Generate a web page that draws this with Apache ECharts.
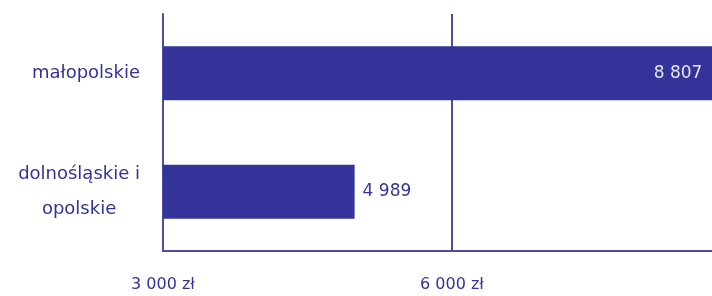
<!DOCTYPE html>
<html>
<head>
<meta charset="utf-8">
<script src="https://cdn.jsdelivr.net/npm/echarts@6/dist/echarts.min.js"></script>
<style>
  html, body { margin: 0; padding: 0; background: #fff; overflow: hidden; }
  /* the original picture is cropped on the right, so the chart runs past the window */
  #chart { width: 780px; height: 296px; }
</style>
</head>
<body>
<div id="chart"></div>
<script>
const categories = ['małopolskie', 'dolnośląskie i\nopolskie']
const values = [8807, 4989]
const tickLabels = { 3000: '3 000 zł', 6000: '6 000 zł' }

const blue = '#333399'
const lineColor = '#4d4da6'

const fmt = v => String(v).replace(/\B(?=(\d{3})+(?!\d))/g, ' ')

const chart = echarts.init(document.getElementById('chart'))

chart.setOption({
  animation: false,
  textStyle: { fontFamily: 'DejaVu Sans' },
  grid: { left: 163, top: 14, bottom: 45, right: 39 },
  xAxis: {
    type: 'value',
    min: 3000,
    max: 9000,
    interval: 3000,
    axisLine: { show: true, lineStyle: { color: lineColor, width: 2 } },
    axisTick: { show: false },
    splitLine: { show: true, lineStyle: { color: lineColor, width: 2 } },
    axisLabel: {
      color: blue,
      fontSize: 16,
      margin: 26,
      formatter: v => tickLabels[v] || ''
    }
  },
  yAxis: {
    type: 'category',
    inverse: true,
    data: categories,
    axisLine: { show: true, lineStyle: { color: lineColor, width: 2 } },
    axisTick: { show: false },
    axisLabel: {
      margin: 23,
      formatter: v => v.split('\n').map(l => '{c|' + l + '}').join('\n'),
      rich: {
        c: { align: 'center', color: blue, fontSize: 18, lineHeight: 35, fontFamily: 'DejaVu Sans' }
      }
    }
  },
  series: [{
    type: 'bar',
    data: values.map((v, i) => ({
      value: v,
      label: i === 0
        ? { position: 'insideRight', distance: 20, color: '#e4e4f4' }
        : { position: 'right', distance: 8, color: blue }
    })),
    barWidth: 54,
    itemStyle: { color: blue },
    label: {
      show: true,
      fontSize: 17,
      formatter: p => fmt(p.value)
    }
  }]
})
</script>
</body>
</html>
